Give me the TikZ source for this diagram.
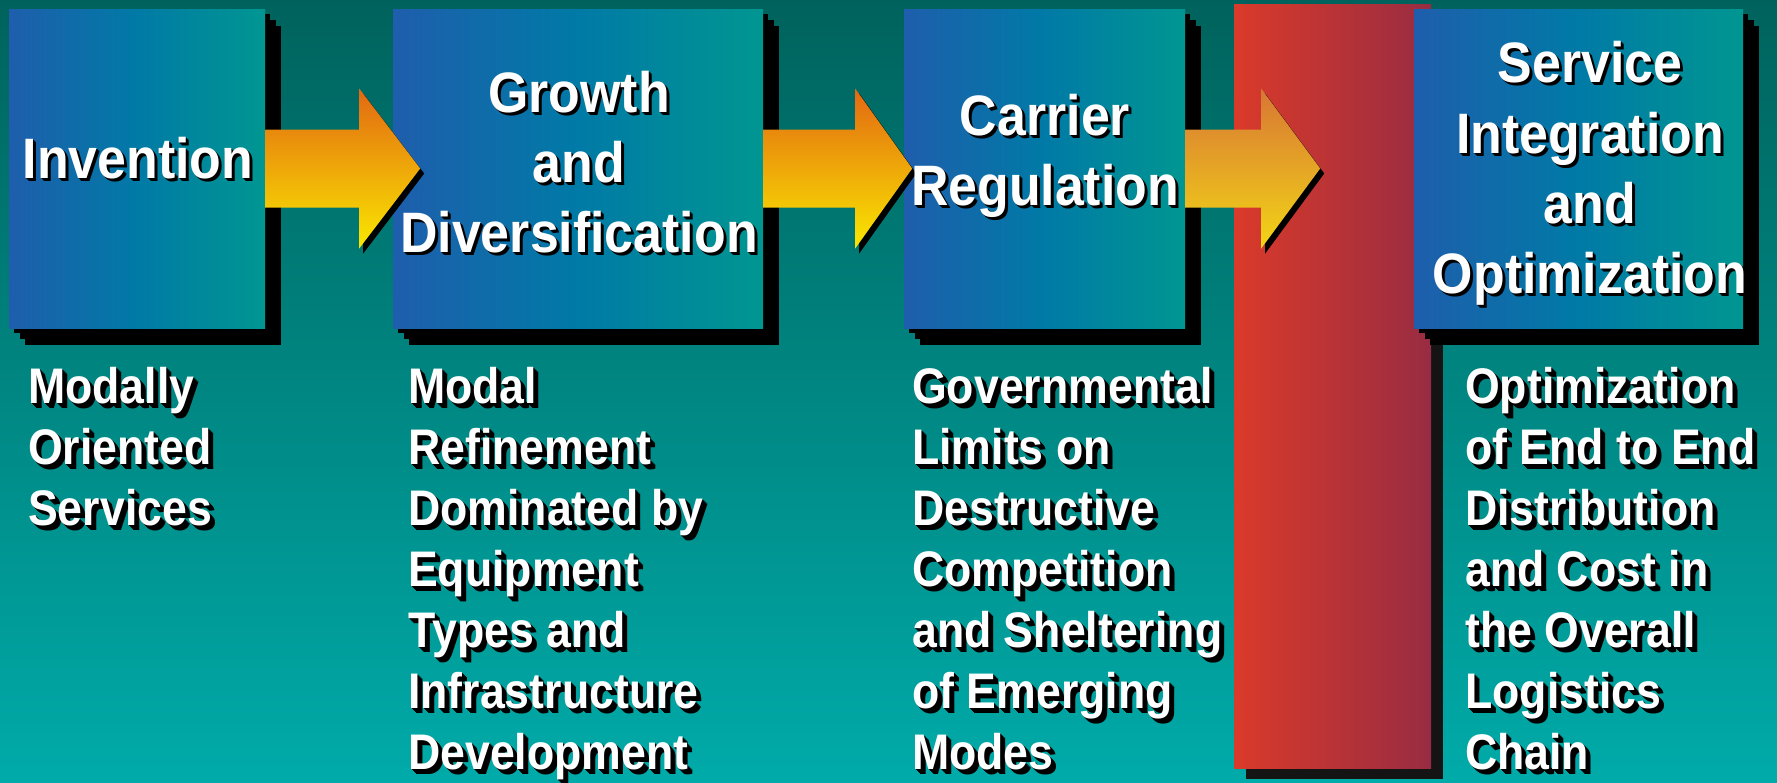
\documentclass[tikz,border=0pt]{standalone}
\usepackage{fontspec}
\usetikzlibrary{calc,shadows}
\newfontfamily\tfont{Liberation Sans Bold}[FakeStretch=0.91]
\newfontfamily\bfont{Liberation Sans Bold}[FakeStretch=0.893]
\definecolor{bgtop}{RGB}{0,98,92}
\definecolor{bgbot}{RGB}{0,171,169}
\definecolor{boxL}{RGB}{30,94,172}
\definecolor{boxM}{RGB}{0,122,166}
\definecolor{boxR}{RGB}{0,150,145}
\definecolor{redL}{RGB}{218,58,42}
\definecolor{redR}{RGB}{152,44,66}
\definecolor{arrT}{RGB}{226,104,18}
\definecolor{arrB}{RGB}{250,232,0}
\definecolor{arrCT}{RGB}{216,118,52}
\definecolor{arrCB}{RGB}{242,214,22}
% #1 name, #2 style, #3 x, #4 y, #5 shadow steps, #6 text
\newcommand\stext[6]{%
  \foreach \d in {1,...,#5} {\node[#2,text=black] at (#3+\d,#4+\d) {#6};}
  \node[#2,text=white] (#1) at (#3,#4) {#6};}
% #1 source node, #2 shaft length, #3 head length, #4 style
\newcommand\blockarrow[4]{%
  \fill[black] ($(#1.east)+(#2+4,-75)$) -- ++(#3,80) -- ++(-#3,80) -- cycle;
  \path[#4] (#1.east) ++(0,-39) -- ++(#2,0) -- ++(0,-41) -- ++(#3,80)
     -- ++(-#3,80) -- ++(0,-41) -- ++(-#2,0) -- cycle;}
\begin{document}
\begin{tikzpicture}[x=1pt,y=-1pt,
  stagebox/.style={inner sep=0pt, minimum height=319pt,
    left color=boxL, right color=boxR, middle color=boxM,
    general shadow={fill=black, shadow xshift=16pt, shadow yshift=-17pt},
    general shadow={fill=black, shadow xshift=11pt, shadow yshift=-11pt},
    general shadow={fill=black, shadow xshift=5pt, shadow yshift=-5pt}},
  redbar/.style={inner sep=0pt, minimum width=197pt, minimum height=764pt,
    left color=redL, right color=redR,
    general shadow={fill=black!92, shadow xshift=12pt, shadow yshift=-11pt}},
  arrowA/.style={top color=arrT, bottom color=arrB},
  arrowC/.style={top color=arrCT, bottom color=arrCB},
  title/.style={inner sep=0pt, anchor=base, font={\tfont\fontsize{57}{70}\selectfont}},
  body/.style={inner sep=0pt, anchor=base west, font={\bfont\fontsize{50}{61}\selectfont}}]
\useasboundingbox (0,0) rectangle (1777,782);
\shade[top color=bgtop, bottom color=bgbot] (0,0) rectangle (1777,782);

\node[redbar] (rbar) at (1332.5,386) {};

\node[stagebox, minimum width=256pt] (b1) at (137,168.5) {};
\node[stagebox, minimum width=370pt] (b2) at (578,168.5) {};
\node[stagebox, minimum width=281pt] (b3) at (1044.5,168.5) {};
\node[stagebox, minimum width=329pt] (b4) at (1578.5,168.5) {};

\blockarrow{b1}{94}{61}{arrowA}
\blockarrow{b2}{92}{57}{arrowA}
\blockarrow{b3}{76}{59}{arrowC}

% titles
\stext{t1a}{title}{138}{178}{3}{Invention}
\stext{t2a}{title}{579}{112}{3}{Growth}
\stext{t2b}{title}{579}{182}{3}{and}
\stext{t2c}{title}{579}{252}{3}{Diversification}
\stext{t3a}{title}{1045}{135}{3}{Carrier}
\stext{t3b}{title}{1045}{205}{3}{Regulation}
\stext{t4a}{title}{1590}{82}{3}{Service}
\stext{t4b}{title}{1590}{153}{3}{Integration}
\stext{t4c}{title}{1590}{223}{3}{and}
\stext{t4d}{title}{1590}{293}{3}{Optimization}

% column 1
\stext{c1a}{body}{28}{403}{5}{Modally}
\stext{c1b}{body}{28}{464}{5}{Oriented}
\stext{c1c}{body}{28}{525}{5}{Services}
% column 2
\stext{c2a}{body}{408}{403}{5}{Modal}
\stext{c2b}{body}{408}{464}{5}{Refinement}
\stext{c2c}{body}{408}{525}{5}{Dominated by}
\stext{c2d}{body}{408}{586}{5}{Equipment}
\stext{c2e}{body}{408}{647}{5}{Types and}
\stext{c2f}{body}{408}{708}{5}{Infrastructure}
\stext{c2g}{body}{408}{769}{5}{Development}
% column 3
\stext{c3a}{body}{912}{403}{5}{Governmental}
\stext{c3b}{body}{912}{464}{5}{Limits on}
\stext{c3c}{body}{912}{525}{5}{Destructive}
\stext{c3d}{body}{912}{586}{5}{Competition}
\stext{c3e}{body}{912}{647}{5}{and Sheltering}
\stext{c3f}{body}{912}{708}{5}{of Emerging}
\stext{c3g}{body}{912}{769}{5}{Modes}
% column 4
\stext{c4a}{body}{1465}{403}{5}{Optimization}
\stext{c4b}{body}{1465}{464}{5}{of End to End}
\stext{c4c}{body}{1465}{525}{5}{Distribution}
\stext{c4d}{body}{1465}{586}{5}{and Cost in}
\stext{c4e}{body}{1465}{647}{5}{the Overall}
\stext{c4f}{body}{1465}{708}{5}{Logistics}
\stext{c4g}{body}{1465}{769}{5}{Chain}
\end{tikzpicture}
\end{document}
